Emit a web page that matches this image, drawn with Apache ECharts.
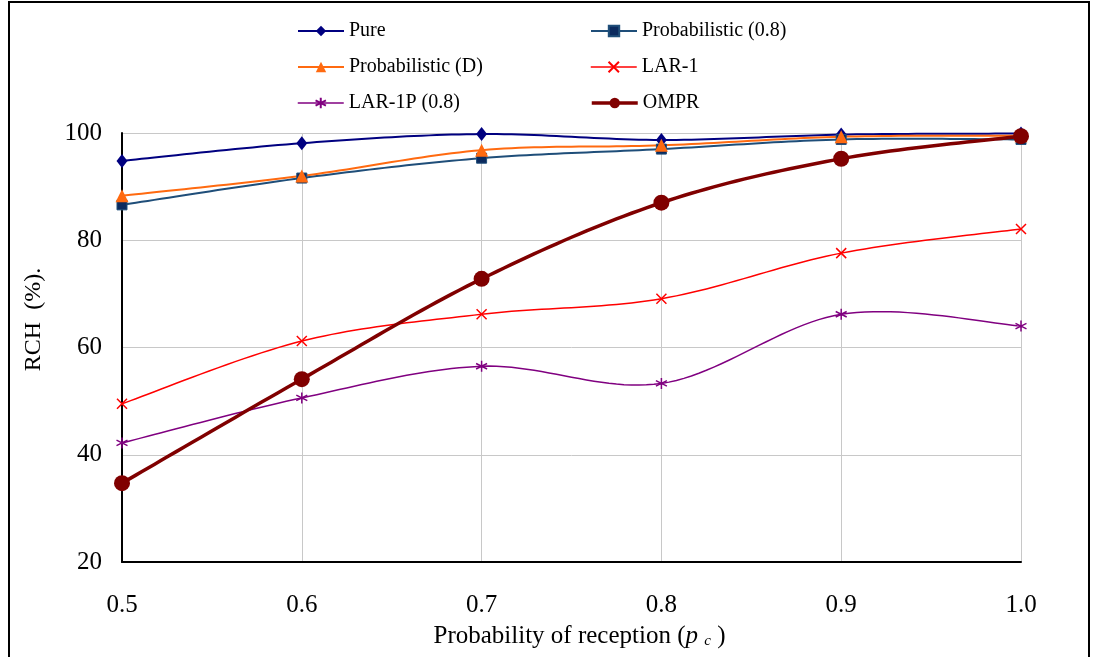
<!DOCTYPE html>
<html><head><meta charset="utf-8">
<script src="https://cdn.jsdelivr.net/npm/echarts@6/dist/echarts.min.js"></script>
<style>html,body{margin:0;padding:0;background:#fff}#c{width:1094px;height:657px}</style>
</head><body><div id="c"></div>
<script>
var xValues = [0.5, 0.6, 0.7, 0.8, 0.9, 1.0];
var pure = [94.8, 98.1, 99.8, 98.7, 99.7, 99.9];
var prob08 = [86.6, 91.6, 95.3, 97.0, 98.8, 98.8];
var probD = [88.3, 92.0, 96.8, 97.7, 99.3, 99.5];
var lar1 = [49.5, 61.2, 66.2, 69.1, 77.6, 82.1];
var lar1p = [42.2, 50.6, 56.5, 53.3, 66.2, 64.0];
var ompr = [34.7, 54.1, 72.8, 87.0, 95.2, 99.4];
var seriesNames = ['Pure', 'Probabilistic (0.8)', 'Probabilistic (D)', 'LAR-1', 'LAR-1P (0.8)', 'OMPR'];
var seriesData = [pure, prob08, probD, lar1, lar1p, ompr];

var colors = ['#000080', '#1f4e79', '#ff6a10', '#ff0000', '#800080', '#800000'];
var widths = [2, 2, 2, 1.5, 1.5, 3.5];
var serif = 'Liberation Serif';
var xMark = 'path://M-5,-5L5,5M-5,5L5,-5';
var star = 'path://M0,-5L0,5M-4.33,-2.5L4.33,2.5M-4.33,2.5L4.33,-2.5';
var symbols = ['diamond', 'rect', 'triangle', xMark, star, 'circle'];
var symSizes = [[11,14], 10, 13, 10, 11, 16];

function pts(arr){ return xValues.map(function(x,i){ return [x, arr[i]]; }); }

// Excel-like smoothed curve (Catmull-Rom Bezier) in pixel space from axis coords
function smoothCurve(arr){
  return function(params, api){
    var p = xValues.map(function(x,i){ return api.coord([x, arr[i]]); });
    var out = [];
    var n = p.length;
    for (var i = 0; i < n - 1; i++){
      var p0 = p[Math.max(i-1,0)], p1 = p[i], p2 = p[i+1], p3 = p[Math.min(i+2,n-1)];
      var c1 = [p1[0] + (p2[0]-p0[0])/6, p1[1] + (p2[1]-p0[1])/6];
      var c2 = [p2[0] - (p3[0]-p1[0])/6, p2[1] - (p3[1]-p1[1])/6];
      var steps = 24;
      for (var s = (i === 0 ? 0 : 1); s <= steps; s++){
        var t = s/steps, u = 1-t;
        out.push([
          u*u*u*p1[0] + 3*u*u*t*c1[0] + 3*u*t*t*c2[0] + t*t*t*p2[0],
          u*u*u*p1[1] + 3*u*u*t*c1[1] + 3*u*t*t*c2[1] + t*t*t*p2[1]
        ]);
      }
    }
    return out;
  };
}

var chart = echarts.init(document.getElementById('c'));

function legend(i, left, top){
  return {data:[seriesNames[i]], left:left, top:top, itemWidth:46, itemHeight:13, itemGap:6, padding:0,
    lineStyle:{color:colors[i], width:widths[i], opacity:1},
    textStyle:{fontFamily:serif, fontSize:20, color:'#000'}, selectedMode:false};
}

var series = [];
seriesData.forEach(function(arr, i){
  var fn = smoothCurve(arr);
  series.push({
    name:'curve' + i, type:'custom', z:2 + i, silent:true,
    data:[[xValues[0], arr[0]]],
    renderItem:function(params, api){
      return {type:'polyline', shape:{points:fn(params, api)},
        style:{stroke:colors[i], lineWidth:widths[i], fill:null, lineJoin:'round'}};
    }
  });
});
seriesData.forEach(function(arr, i){
  var stroked = (i === 3 || i === 4);
  series.push({
    name:seriesNames[i], type:'line', z:10 + i, data:pts(arr), symbol:symbols[i], symbolSize:symSizes[i],
    lineStyle:{color:colors[i], width:widths[i], opacity:0},
    itemStyle: stroked ? {color:colors[i], borderColor:colors[i], borderWidth:1.5}
             : (i === 1 ? {color:'#0b2a5e', borderColor:'#1f4e79', borderWidth:1} : {color:colors[i]})
  });
});

chart.setOption({
  animation:false,
  backgroundColor:'#fff',
  graphic:[{type:'rect', shape:{x:9, y:2, width:1080, height:670}, style:{fill:'none', stroke:'#000', lineWidth:2}, silent:true}],
  legend:[
    legend(0, 297, 21), legend(1, 590, 21),
    legend(2, 297, 57), legend(3, 590, 57),
    legend(4, 297, 93), legend(5, 590, 93)
  ],
  grid:{left:122, right:73, top:133, bottom:95},
  xAxis:{type:'value', min:0.5, max:1.0, interval:0.1,
    axisLine:{lineStyle:{color:'#000', width:2}}, axisTick:{show:false},
    axisLabel:{fontFamily:serif, fontSize:25, color:'#000', margin:31, formatter:function(v){return v.toFixed(1);}},
    splitLine:{show:true, lineStyle:{color:'#c8c8c8', width:1}},
    name:'Probability of reception ({i|p} {s|c} )', nameLocation:'middle', nameGap:62,
    nameTextStyle:{fontFamily:serif, fontSize:25, color:'#000', padding:[0,0,0,16],
      rich:{i:{fontFamily:serif, fontStyle:'italic', fontSize:25, color:'#000'}, s:{fontFamily:serif, fontStyle:'italic', fontSize:15, color:'#000', padding:[9,0,0,0]}}}
  },
  yAxis:{type:'value', min:20, max:100, interval:20,
    axisLine:{show:true, lineStyle:{color:'#000', width:2}}, axisTick:{show:false},
    axisLabel:{fontFamily:serif, fontSize:25, color:'#000', margin:20},
    splitLine:{show:true, lineStyle:{color:'#c8c8c8', width:1}},
    name:'RCH  (%).', nameLocation:'middle', nameGap:76,
    nameTextStyle:{fontFamily:serif, fontSize:24, color:'#000', padding:[0,0,0,56]}
  },
  series:series
});
</script></body></html>
